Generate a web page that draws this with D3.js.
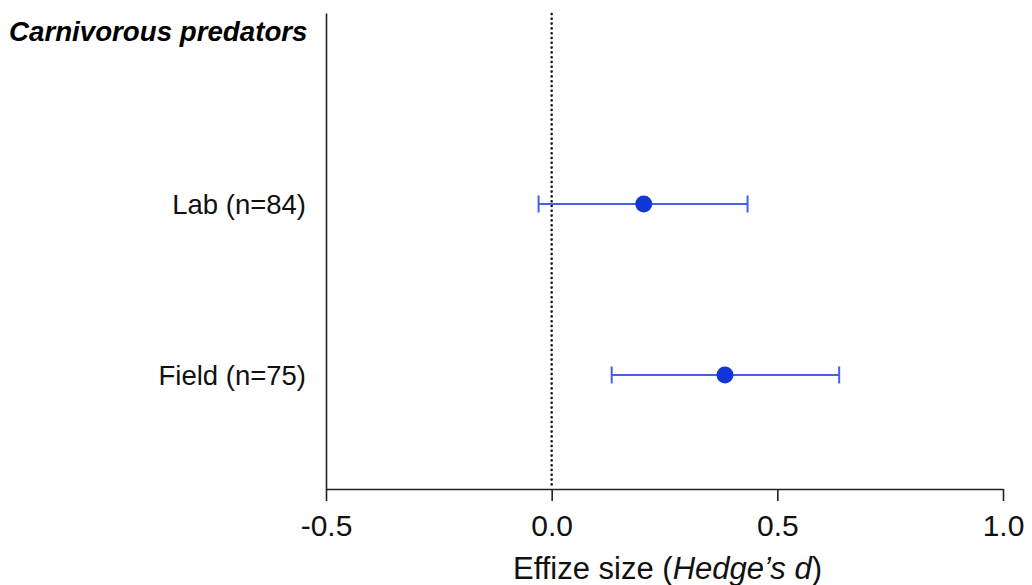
<!DOCTYPE html>
<html>
<head>
<meta charset="utf-8">
<script src="https://cdn.jsdelivr.net/npm/d3@7"></script>
<style>
  html, body { margin: 0; padding: 0; background: #fff; }
  svg { display: block; font-family: "Liberation Sans", Arial, Helvetica, sans-serif; }
</style>
</head>
<body>
<svg id="chart" width="1032" height="585"></svg>
<script>
// ---- data ----
const categories = ["Lab (n=84)", "Field (n=75)"];
const rowIndex = [1, 2];
const estimates = [0.204, 0.384];
const lowerCI = [-0.029, 0.133];
const upperCI = [0.434, 0.637];
const xTicks = [-0.5, 0.0, 0.5, 1.0];
const groupTitle = "Carnivorous predators";

(function () {
// ---- layout ----
const svg = d3.select("#chart");
const pLeft = 326, pRight = 1003, pTop = 13, pBottom = 489;

const x = d3.scaleLinear().domain([-0.5, 1.0]).range([pLeft, pRight]);
const y = d3.scaleLinear().domain([-0.117, 2.667]).range([pTop, pBottom]);

// x axis
const xAxis = d3.axisBottom(x).tickValues(xTicks).tickFormat(d3.format(".1f")).tickSize(12).tickSizeOuter(0);
const gx = svg.append("g").attr("transform", `translate(0,${pBottom})`).call(xAxis);
gx.select(".domain").attr("stroke", "#222").attr("stroke-width", 1.6);
gx.selectAll(".tick line").attr("stroke", "#222").attr("stroke-width", 1.6);
gx.selectAll(".tick text").attr("font-size", 30).attr("fill", "#111").attr("dy", "1.05em")
  .attr("font-family", "'Liberation Sans', Arial, sans-serif").text(d => d.toFixed(1));

// y axis line (no ticks)
const yAxis = d3.axisLeft(y).tickValues([]).tickSizeOuter(0);
const gy = svg.append("g").attr("transform", `translate(${pLeft},0)`).call(yAxis);
gy.select(".domain").attr("stroke", "#222").attr("stroke-width", 1.6);

// zero reference line (dotted)
svg.append("line")
  .attr("x1", x(0)).attr("x2", x(0))
  .attr("y1", pTop + 1).attr("y2", pBottom)
  .attr("stroke", "#111").attr("stroke-width", 2.6)
  .attr("stroke-linecap", "round")
  .attr("stroke-dasharray", "0,4.8");

// category labels
svg.selectAll("text.cat").data(categories).enter().append("text")
  .attr("class", "cat")
  .attr("x", 306)
  .attr("y", (d, i) => y(rowIndex[i]) + 10)
  .attr("text-anchor", "end")
  .attr("font-size", 27.5)
  .attr("fill", "#111")
  .text(d => d);

// title
svg.append("text")
  .attr("x", 9).attr("y", 41)
  .attr("font-size", 27.7).attr("font-weight", "bold").attr("font-style", "italic")
  .attr("fill", "#000")
  .text(groupTitle);

// error bars
const blueLine = "#4262e6", bluePt = "#1236d8";
const rows = categories.map((c, i) => ({ c, r: rowIndex[i], e: estimates[i], lo: lowerCI[i], hi: upperCI[i] }));
const g = svg.append("g");
g.selectAll("line.ci").data(rows).enter().append("line")
  .attr("x1", d => x(d.lo)).attr("x2", d => x(d.hi))
  .attr("y1", d => y(d.r)).attr("y2", d => y(d.r))
  .attr("stroke", blueLine).attr("stroke-width", 2);
g.selectAll("line.capL").data(rows).enter().append("line")
  .attr("x1", d => x(d.lo)).attr("x2", d => x(d.lo))
  .attr("y1", d => y(d.r) - 8.5).attr("y2", d => y(d.r) + 8.5)
  .attr("stroke", blueLine).attr("stroke-width", 2);
g.selectAll("line.capR").data(rows).enter().append("line")
  .attr("x1", d => x(d.hi)).attr("x2", d => x(d.hi))
  .attr("y1", d => y(d.r) - 8.5).attr("y2", d => y(d.r) + 8.5)
  .attr("stroke", blueLine).attr("stroke-width", 2);
g.selectAll("circle").data(rows).enter().append("circle")
  .attr("cx", d => x(d.e)).attr("cy", d => y(d.r)).attr("r", 8.5)
  .attr("fill", bluePt);

// x axis title
const t = svg.append("text")
  .attr("x", (pLeft + pRight) / 2 + 3).attr("y", 579)
  .attr("text-anchor", "middle").attr("font-size", 31).attr("fill", "#111");
t.append("tspan").text("Effize size (");
t.append("tspan").attr("font-style", "italic").text("Hedge’s d");
t.append("tspan").text(")");
})();
</script>
</body>
</html>
